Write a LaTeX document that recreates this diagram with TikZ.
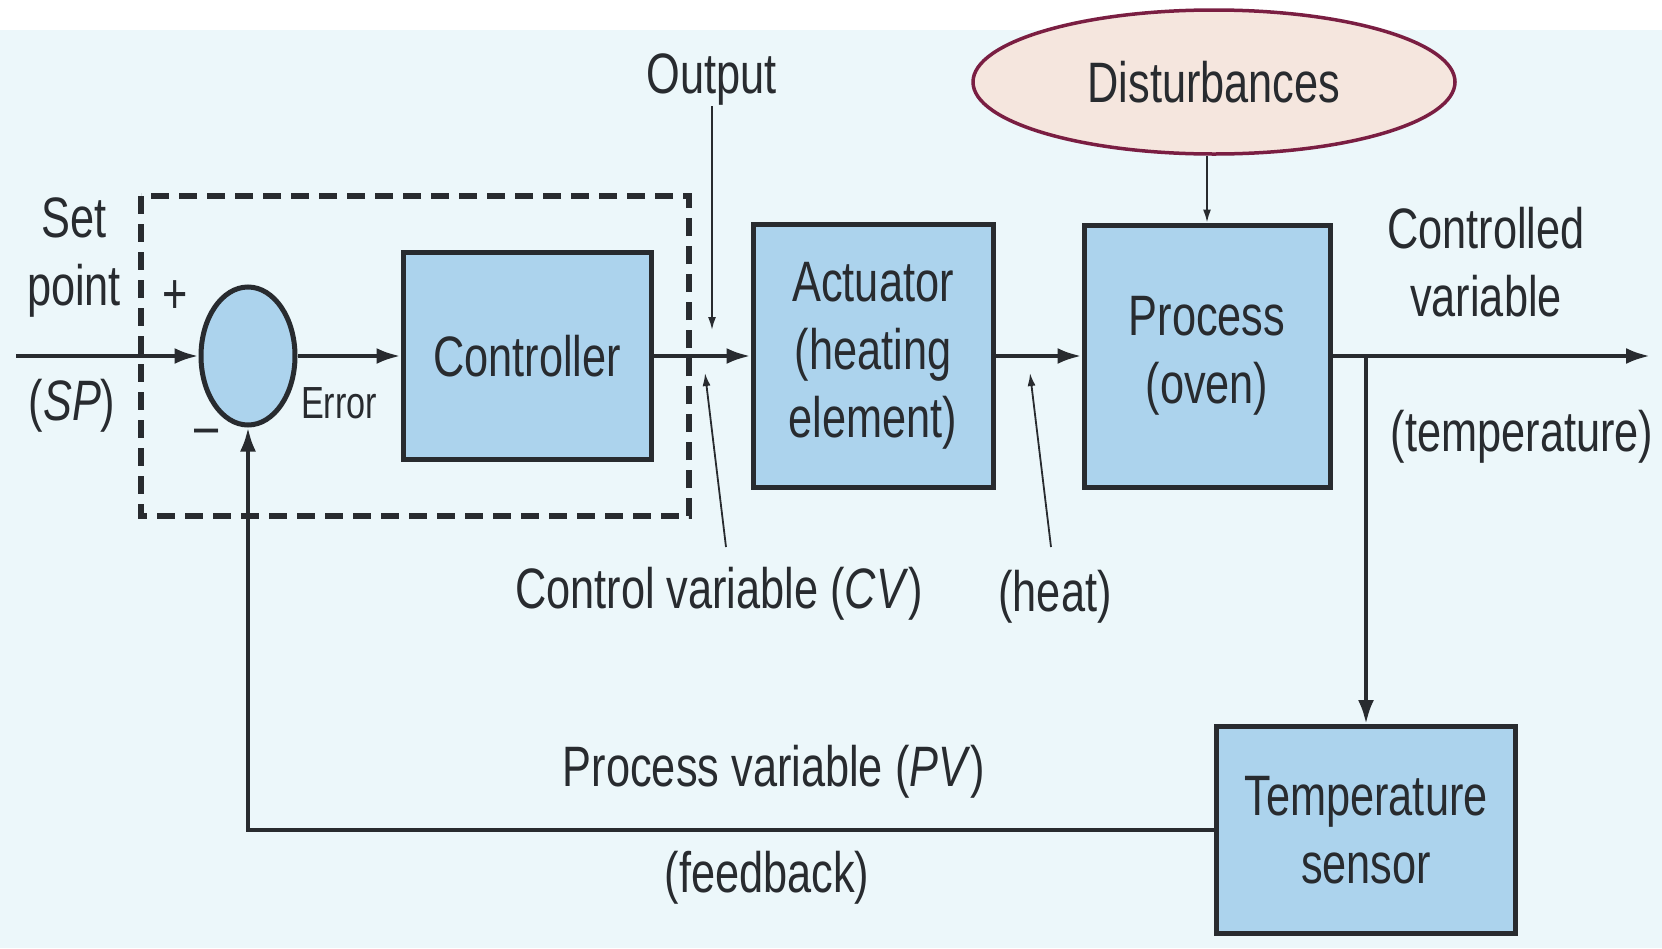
\documentclass[tikz,border=0pt]{standalone}
\usepackage{fontspec}
\setmainfont{Liberation Sans}[FakeStretch=0.76]
\usepackage{tikz}
\usetikzlibrary{arrows.meta,shapes.geometric}

\definecolor{boxblue}{RGB}{172,211,237}
\definecolor{paper}{RGB}{236,247,250}
\definecolor{inkgrey}{RGB}{40,43,47}
\definecolor{wine}{RGB}{122,30,66}
\definecolor{peach}{RGB}{245,230,222}
\newcommand{\diagfont}{\fontsize{57}{68}\selectfont}
\newcommand{\smallfont}{\fontsize{45}{54}\selectfont}

\begin{document}
\begin{tikzpicture}[x=1pt,y=1pt,yscale=-1,xscale=1,font=\diagfont,
  blk/.style={draw=inkgrey,line width=5pt,fill=boxblue,align=center,inner sep=0pt,text=inkgrey},
  sig/.style={draw=inkgrey,line width=4pt,-{Latex[length=24pt,width=16pt]}},
  ptr/.style={draw=inkgrey,line width=1.8pt,-{Latex[length=13pt,width=8pt]}},
  lbl/.style={inner sep=0pt,align=center,text=inkgrey}]
\useasboundingbox (0,0) rectangle (1662,948);
\fill[paper] (0,30) rectangle (1662,948);

%Dashed box round junction and controller
\draw[inkgrey,line width=5.5pt,dash pattern=on 18pt off 10pt] (141,196) rectangle (689,516);

%Shapes: blocks
\node[blk,ellipse,minimum width=94pt,minimum height=138pt] (sum) at (248,356) {};
\node[blk,minimum width=248pt,minimum height=207pt] (ctrl) at (527,356) {Controller};
\node[blk,minimum width=240pt,minimum height=263pt] (act) at (873,356) {Actuator\\(heating\\element)};
\node[blk,minimum width=246pt,minimum height=262pt] (proc) at (1207,356) {Process\\(oven)};
\node[blk,minimum width=299pt,minimum height=207pt] (sens) at (1366,830) {Temperature\\sensor};
%Shape: Ellipse
\node[ellipse,draw=wine,line width=3.5pt,fill=peach,minimum width=482pt,minimum height=144pt,text=inkgrey] (dist) at (1214,82) {Disturbances};

% Text Node
\node[lbl] (setpt) at (74,258) {Set\\point};
% Text Node
\node[lbl] (sp) at (72,406) {(\textit{SP})};
% Text Node
\node[lbl] (plus) at (175,297) {+};
% Text Node
\node[lbl] (minus) at (207,437) {\textendash};
% Text Node
\node[lbl,font=\smallfont] (err) at (339,403) {Error};
% Text Node
\node[lbl] (outlbl) at (712,80) {Output};
% Text Node
\node[lbl] (cvlbl) at (719,594) {Control variable (\textit{CV})};
% Text Node
\node[lbl] (heatlbl) at (1055,597) {(heat)};
% Text Node
\node[lbl] (ctlvar) at (1486,262) {Controlled\\variable};
% Text Node
\node[lbl] (temp) at (1522,437) {(temperature)};
% Text Node
\node[lbl] (pvlbl) at (774,772) {Process variable (\textit{PV})};
% Text Node
\node[lbl] (fb) at (767,878) {(feedback)};

%Free ends
\coordinate (spin) at (16,356);
\coordinate (cvout) at (1650,356);
\coordinate (outtip) at (712,330);
\coordinate (cvfoot) at (726,547);
\coordinate (cvtip) at (705,373);
\coordinate (heatfoot) at (1051,547);
\coordinate (heattip) at (1030,373);

%Straight Lines
\draw[sig] (spin) -- (sum);
\draw[sig] (sum) -- (ctrl);
\draw[sig] (ctrl) -- (act);
\draw[sig] (act) -- (proc);
\draw[sig] (proc) -- (cvout);
\draw[sig] (proc.east -| sens.north) -- (sens.north);
\draw[sig] (sens.west) -| (sum.south);
%Pointers
\draw[ptr] (dist.south -| proc.north) -- (proc.north);
\draw[ptr] (outlbl.south) -- (outtip);
\draw[ptr] (cvfoot) -- (cvtip);
\draw[ptr] (heatfoot) -- (heattip);

\end{tikzpicture}
\end{document}
